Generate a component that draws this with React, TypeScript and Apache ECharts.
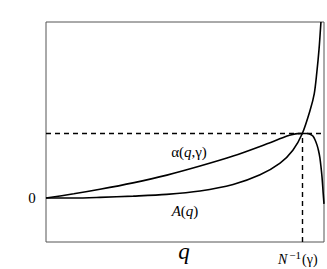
import React, { useEffect, useRef } from "react";
import * as echarts from "echarts";

// A(q) curve points [q, value]
const curveAX = [0, 0.1, 0.194, 0.314, 0.434, 0.554, 0.673, 0.77, 0.842, 0.888, 0.922, 0.95, 0.965, 0.974, 0.982, 0.989];
const curveAY = [0, 0.0, 0.01, 0.03, 0.057, 0.11, 0.21, 0.36, 0.54, 0.74, 1.0, 1.36, 1.62, 1.94, 2.3, 2.73];
// alpha(q, gamma) curve points
const curveBX = [0, 0.1, 0.194, 0.313, 0.435, 0.554, 0.673, 0.795, 0.867, 0.888, 0.905, 0.922, 0.94, 0.95, 0.96, 0.968, 0.975, 0.98, 0.985, 0.989, 0.993, 0.997, 1.0];
const curveBY = [0, 0.065, 0.135, 0.235, 0.355, 0.495, 0.65, 0.84, 0.96, 0.985, 0.998, 1.0, 1.0, 0.99, 0.96, 0.9, 0.82, 0.74, 0.63, 0.49, 0.32, 0.08, -0.09];
const levelY = 1; // dashed horizontal level
const inverseX = 0.922; // N^-1(gamma)
const yMin = -0.682;
const yMax = 2.729;

export default function App() {
  const ref = useRef<HTMLDivElement>(null);
  useEffect(() => {
    if (!ref.current) return;
    const chart = echarts.init(ref.current, null, { renderer: "svg" });
    const fam = "Liberation Serif";
    const n = (size: number) => ({ fontFamily: fam, fontSize: size, fontStyle: "normal", fill: "#000" });
    const it = (size: number) => ({ fontFamily: fam, fontSize: size, fontStyle: "italic", fill: "#000" });
    chart.setOption({
      animation: false,
      grid: { left: 46, top: 22, right: 3, bottom: 27, show: true, borderColor: "#555", borderWidth: 1, backgroundColor: "transparent" },
      xAxis: { type: "value", min: 0, max: 1, axisLine: { show: false }, axisTick: { show: false }, axisLabel: { show: false }, splitLine: { show: false } },
      yAxis: { type: "value", min: yMin, max: yMax, axisLine: { show: false }, axisTick: { show: false }, axisLabel: { show: false }, splitLine: { show: false } },
      series: [
        {
          type: "line",
          data: curveAX.map((x, i) => [x, curveAY[i]]),
          smooth: 0.3,
          showSymbol: false,
          lineStyle: { color: "#000", width: 1.6 },
          z: 3,
          markLine: {
            silent: true,
            symbol: "none",
            label: { show: false },
            lineStyle: { color: "#000", type: [5, 4], width: 1.4 },
            data: [
              [{ coord: [0, levelY] }, { coord: [1, levelY] }],
              [{ coord: [inverseX, yMin] }, { coord: [inverseX, levelY] }],
            ],
          },
        },
        {
          type: "line",
          data: curveBX.map((x, i) => [x, curveBY[i]]),
          smooth: 0.3,
          showSymbol: false,
          lineStyle: { color: "#000", width: 1.6 },
          z: 3,
        },
      ],
      graphic: [
        { type: "text", x: 32, y: 198, style: { text: "0", ...n(15), align: "center", verticalAlign: "middle" } },
        { type: "text", x: 184, y: 263, style: { text: "q", ...it(23), align: "center", verticalAlign: "bottom" } },
        {
          type: "text", x: 189, y: 152,
          style: {
            text: "{n|α(}{i|q}{n|,γ)}", align: "center", verticalAlign: "middle", ...n(15),
            rich: { n: n(15), i: it(15) },
          },
        },
        {
          type: "text", x: 185, y: 211,
          style: {
            text: "{i|A}{n|(}{i|q}{n|)}", align: "center", verticalAlign: "middle", ...n(15),
            rich: { n: n(15), i: it(15) },
          },
        },
        {
          type: "text", x: 278, y: 259,
          style: {
            text: "{i|N}{s|−1}{n|(γ)}", align: "left", verticalAlign: "middle", ...n(14),
            rich: {
              n: n(14),
              i: it(14),
              s: { ...n(11), verticalAlign: "top", padding: [0, 1, 8, 2] },
            },
          },
        },
      ],
    });
    return () => chart.dispose();
  }, []);
  return <div ref={ref} style={{ width: 327, height: 269, position: "absolute", left: 0, top: 0 }} />;
}
